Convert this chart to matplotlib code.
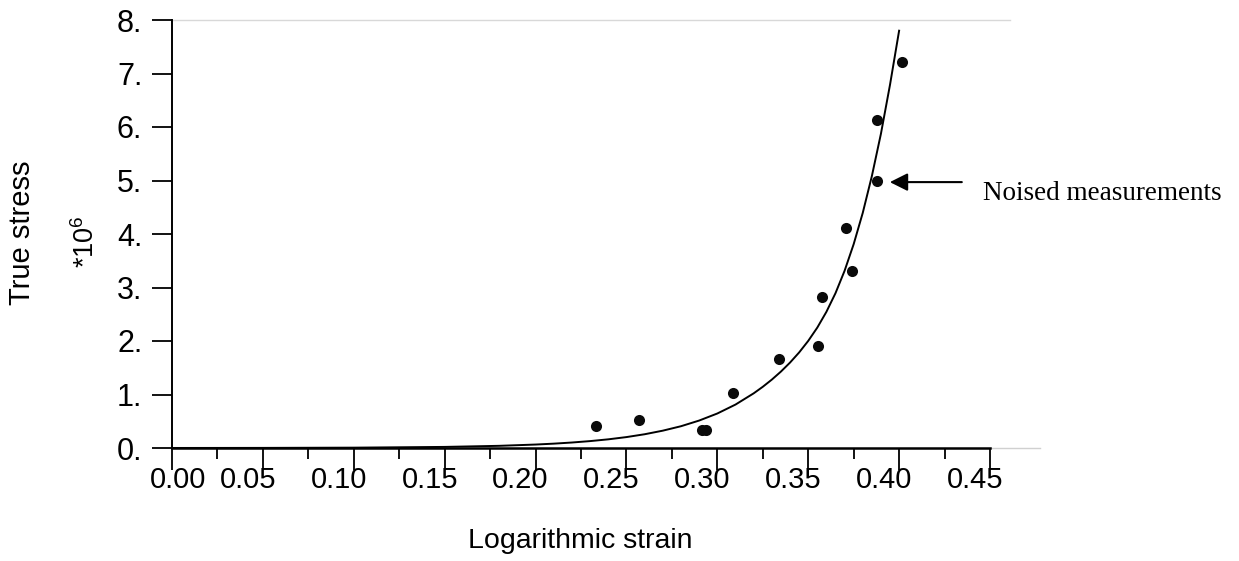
import matplotlib
matplotlib.use("Agg")
import matplotlib.pyplot as plt
from matplotlib.transforms import Affine2D

# ---- data ----
# measured (noised) points: logarithmic strain, true stress (*10^6)
meas_strain = [0.2332, 0.2567, 0.2918, 0.2940, 0.3088, 0.3337, 0.3553,
               0.3577, 0.3707, 0.3742, 0.3881, 0.3881, 0.4014]
meas_stress = [0.41, 0.52, 0.34, 0.33, 1.02, 1.67, 1.91,
               2.82, 4.11, 3.31, 5.00, 6.13, 7.21]

# fitted curve
curve_strain = [0.000, 0.050, 0.100, 0.150, 0.180, 0.200, 0.210, 0.220,
                0.230, 0.240, 0.250, 0.260, 0.270, 0.280, 0.290, 0.300,
                0.310, 0.320, 0.325, 0.330, 0.335, 0.340, 0.345, 0.350,
                0.355, 0.360, 0.365, 0.370, 0.375, 0.380, 0.385, 0.390,
                0.395, 0.400]
curve_stress = [0.0006, 0.002, 0.0064, 0.0204, 0.0407, 0.0646, 0.0813,
                0.1025, 0.129, 0.162, 0.204, 0.257, 0.324, 0.407, 0.513,
                0.645, 0.812, 1.022, 1.144, 1.279, 1.429, 1.597, 1.786,
                2.002, 2.251, 2.545, 2.894, 3.312, 3.810, 4.395, 5.081,
                5.874, 6.791, 7.800]

x_major = [0.00, 0.05, 0.10, 0.15, 0.20, 0.25, 0.30, 0.35, 0.40, 0.45]
x_minor = [0.025, 0.075, 0.125, 0.175, 0.225, 0.275, 0.325, 0.375, 0.425]
x_labels = ["0.00", "0.05", "0.10", "0.15", "0.20", "0.25", "0.30",
            "0.35", "0.40", "0.45"]
y_major = [0, 1, 2, 3, 4, 5, 6, 7, 8]
y_labels = ["0.", "1.", "2.", "3.", "4.", "5.", "6.", "7.", "8."]

annot_point = (0.3949, 4.97)
annot_tail = (0.4345, 4.97)

W, H = 1239, 561
plt.rcParams['font.family'] = ['Liberation Sans', 'DejaVu Sans']

fig = plt.figure(figsize=(W / 100, H / 100), dpi=100)
ax = fig.add_axes([172 / W, 1 - 448 / H, (990 - 172) / W, (448 - 20) / H])
ax.set_xlim(0, 0.45)
ax.set_ylim(0, 8)

ax.plot(curve_strain, curve_stress, color='black', lw=1.4, zorder=3,
        clip_on=False, solid_joinstyle='round')
ax.plot(meas_strain, meas_stress, 'o', color='#0a0a0a', ms=8, mew=0,
        zorder=4, clip_on=False)

# spines
ax.spines['right'].set_visible(False)
ax.spines['top'].set_visible(False)
ax.spines['left'].set_linewidth(1.4)
ax.spines['bottom'].set_linewidth(1.8)
# faint top border and bottom extension
ax.axhline(8, xmin=0, xmax=(1010 - 172) / (990 - 172), color='#d8d8d8',
           lw=1.0, clip_on=False)
ax.axhline(0, xmin=1.0, xmax=(1040 - 172) / (990 - 172), color='#d0d0d0',
           lw=1.0, clip_on=False)

# ticks
ax.set_xticks(x_major)
ax.set_xticks(x_minor, minor=True)
ax.set_xticklabels(x_labels)
ax.set_yticks(y_major)
ax.set_yticklabels(y_labels)
ax.tick_params(axis='x', which='major', direction='out', length=15.8,
               width=1.3, labelsize=21, pad=-3)
ax.tick_params(axis='x', which='minor', direction='out', length=7.9,
               width=1.3)
ax.tick_params(axis='y', which='major', direction='out', length=14.4,
               width=1.3, labelsize=22, pad=7)

for i, lab in enumerate(ax.get_xticklabels()):
    dx = 6.5 if i == 0 else -15
    lab.set_transform(lab.get_transform() + Affine2D().translate(dx, 0))

# arrow + annotation
ax.annotate('', xy=annot_point, xytext=annot_tail,
            arrowprops=dict(arrowstyle='-|>,head_length=0.6,head_width=0.3',
                            mutation_scale=18, lw=1.5, color='black',
                            shrinkA=0, shrinkB=0),
            annotation_clip=False)
fig.text(983 / W, 1 - 200 / H, 'Noised measurements', fontsize=19.5,
         family=['Liberation Serif', 'DejaVu Serif'], ha='left',
         va='baseline')

# axis titles
fig.text(22 / W, 1 - 233 / H, 'True stress', rotation=90, fontsize=21,
         ha='center', va='center')
fig.text(86 / W, 1 - 242 / H, r'*10$^{\mathregular{6}}$', rotation=90,
         fontsize=19.5, ha='center', va='center')
fig.text(580 / W, 1 - 541 / H, 'Logarithmic strain', fontsize=20.5,
         ha='center', va='center')

fig.savefig('out.png', dpi=100)
